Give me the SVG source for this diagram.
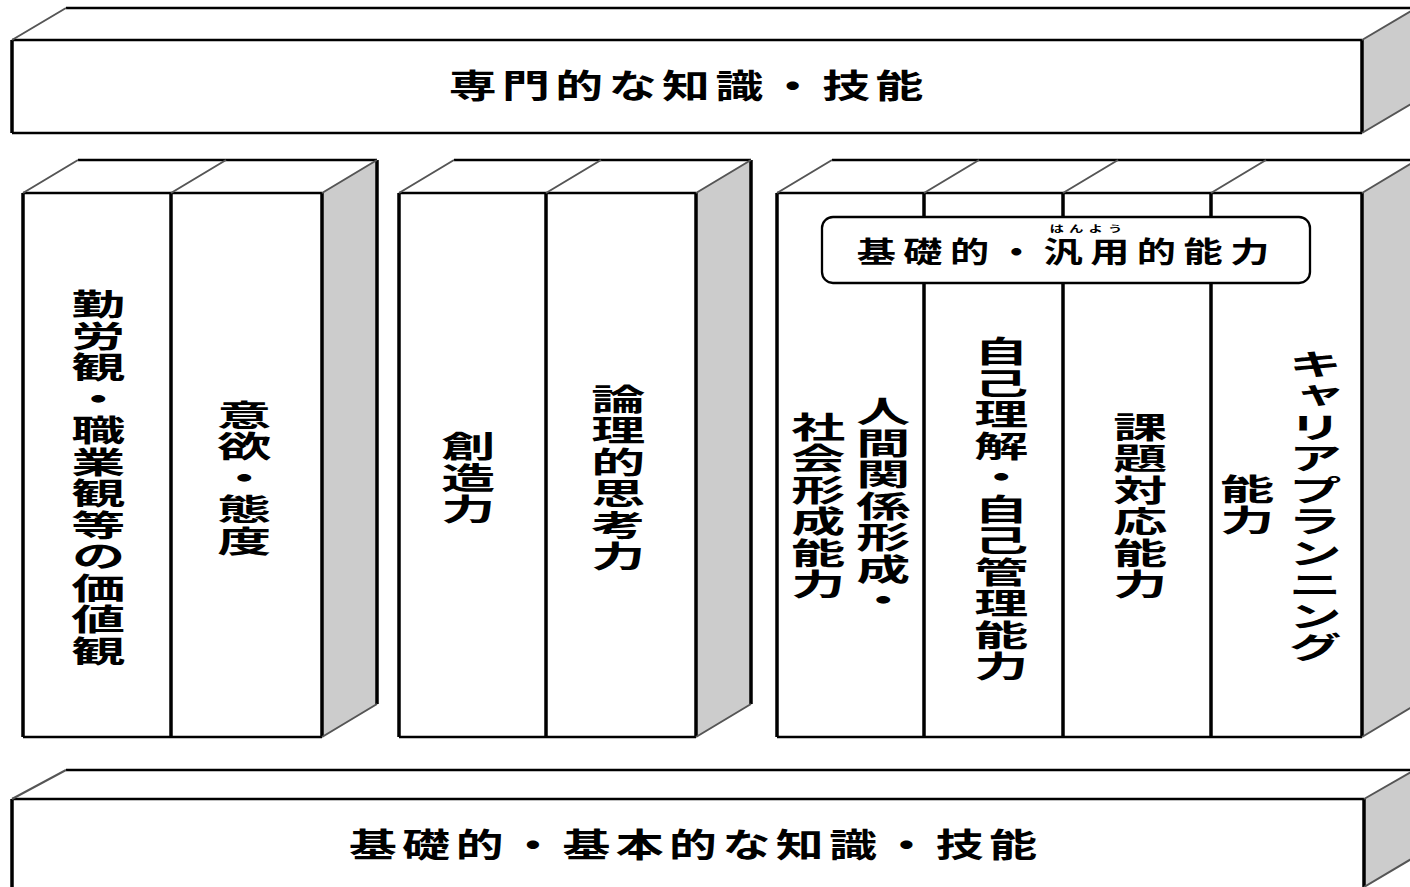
<svg xmlns="http://www.w3.org/2000/svg" width="1410" height="887" viewBox="0 0 1410 887">
<style>
.bg{fill:#fff}
.face{fill:#fff;stroke:none}
.side{fill:#ccc;stroke:none}
.h{stroke:#000;stroke-width:2.3;fill:none}
.v{stroke:#000;stroke-width:3.5;fill:none}
.d{stroke:#555;stroke-width:2;fill:none}
.lbl{fill:#fff;stroke:#000;stroke-width:2.3}
.ht{font-family:"Liberation Sans","Noto Sans CJK JP",sans-serif;font-weight:700;fill:#000;text-anchor:middle;dominant-baseline:central}
.vt{font-family:"Liberation Sans","Noto Sans CJK JP",sans-serif;font-weight:700;fill:#000;text-anchor:middle;writing-mode:vertical-rl;font-size:30px;letter-spacing:1.5px}
</style>
<rect class="bg" x="0" y="0" width="1410" height="887"/>

<g id="connectors"></g>

<g id="slab-top">
  <polygon class="face" points="12,40 66,8 1416,8 1362,40"/>
  <polygon class="side" points="1362,40 1416,8 1416,101 1362,133"/>
  <rect class="face" x="12" y="40" width="1350" height="93"/>
  <path class="h" d="M66,8 H1416 M12,40 H1362 M12,133 H1362"/>
  <path class="v" d="M12,40 V133 M1362,40 V133"/>
  <path class="d" d="M12,40 L66,8 M1362,40 L1416,8 M1362,133 L1416,101"/>
  <g transform="translate(686,87) scale(1.45,1)"><text class="ht" x="1.9" y="0" font-size="33" letter-spacing="3.8">専門的な知識・技能</text></g>
</g>

<g id="block-left">
  <polygon class="face" points="23,193 78,160 377,160 322,193"/>
  <polygon class="side" points="322,193 377,160 377,704 322,737"/>
  <rect class="face" x="23" y="193" width="299" height="544"/>
  <path class="h" d="M78,160 H377 M23,193 H322 M23,737 H322"/>
  <path class="v" d="M23,193 V737 M171,193 V737 M322,193 V737 M377,160 V704"/>
  <path class="d" d="M23,193 L78,160 M171,193 L226,160 M322,193 L377,160 M322,737 L377,704"/>
</g>
<g id="col-values">
  <g transform="translate(94,478) scale(1.8,1)"><text class="vt" x="0" y="0">勤労観・職業観等の価値観</text></g>
</g>
<g id="col-attitude">
  <g transform="translate(240,478) scale(1.8,1)"><text class="vt" x="0" y="0">意欲・態度</text></g>
</g>

<g id="block-middle">
  <polygon class="face" points="399,193 454,160 751,160 696,193"/>
  <polygon class="side" points="696,193 751,160 751,704 696,737"/>
  <rect class="face" x="399" y="193" width="297" height="544"/>
  <path class="h" d="M454,160 H751 M399,193 H696 M399,737 H696"/>
  <path class="v" d="M399,193 V737 M546,193 V737 M696,193 V737 M751,160 V704"/>
  <path class="d" d="M399,193 L454,160 M546,193 L601,160 M696,193 L751,160 M696,737 L751,704"/>
</g>
<g id="col-creativity">
  <g transform="translate(464,478) scale(1.8,1)"><text class="vt" x="0" y="0">創造力</text></g>
</g>
<g id="col-logic">
  <g transform="translate(614,478) scale(1.8,1)"><text class="vt" x="0" y="0">論理的思考力</text></g>
</g>

<g id="block-right">
  <polygon class="face" points="777,193 832,160 1417,160 1362,193"/>
  <polygon class="side" points="1362,193 1417,160 1417,704 1362,737"/>
  <rect class="face" x="777" y="193" width="585" height="544"/>
  <path class="h" d="M832,160 H1417 M777,193 H1362 M777,737 H1362"/>
  <path class="v" d="M777,193 V737 M924,193 V737 M1063,193 V737 M1211,193 V737 M1362,193 V737"/>
  <path class="d" d="M777,193 L832,160 M924,193 L979,160 M1063,193 L1118,160 M1211,193 L1266,160 M1362,193 L1417,160 M1362,737 L1417,704"/>
</g>
<g id="col-social">
  <g transform="translate(879,506) scale(1.8,1)"><text class="vt" x="0" y="0">人間関係形成・</text></g>
  <g transform="translate(814,506) scale(1.8,1)"><text class="vt" x="0" y="0">社会形成能力</text></g>
</g>
<g id="col-self">
  <g transform="translate(997,509) scale(1.8,1)"><text class="vt" x="0" y="0">自己理解・自己管理能力</text></g>
</g>
<g id="col-task">
  <g transform="translate(1136,506) scale(1.8,1)"><text class="vt" x="0" y="0">課題対応能力</text></g>
</g>
<g id="col-career">
  <g transform="translate(1311,506) scale(1.8,1)"><text class="vt" x="0" y="0">キャリアプランニング</text></g>
  <g transform="translate(1243,505) scale(1.8,1)"><text class="vt" x="0" y="0">能力</text></g>
</g>

<g id="label-generic">
  <rect class="lbl" x="822" y="217" width="488" height="66" rx="11" ry="11"/>
  <g transform="translate(1063,253) scale(1.35,1)"><text class="ht" x="2.8" y="0" font-size="29" letter-spacing="5.6">基礎的・汎用的能力</text></g>
  <g transform="translate(1086,229) scale(1.6,1)"><text class="ht" x="1.6" y="0" font-size="9" letter-spacing="3.2">はんよう</text></g>
</g>

<g id="slab-bottom">
  <polygon class="face" points="12,799 66,770 1418,770 1364,799"/>
  <polygon class="side" points="1364,799 1418,768 1418,855 1364,887"/>
  <rect class="face" x="12" y="799" width="1352" height="90"/>
  <path class="h" d="M66,770 H1418 M12,799 H1364"/>
  <path class="v" d="M12,799 V890 M1364,799 V887"/>
  <path class="d" d="M12,799 L66,770 M1364,799 L1418,768 M1364,887 L1418,855"/>
  <g transform="translate(693,846) scale(1.45,1)"><text class="ht" x="1.9" y="0" font-size="33" letter-spacing="3.8">基礎的・基本的な知識・技能</text></g>
</g>
</svg>
